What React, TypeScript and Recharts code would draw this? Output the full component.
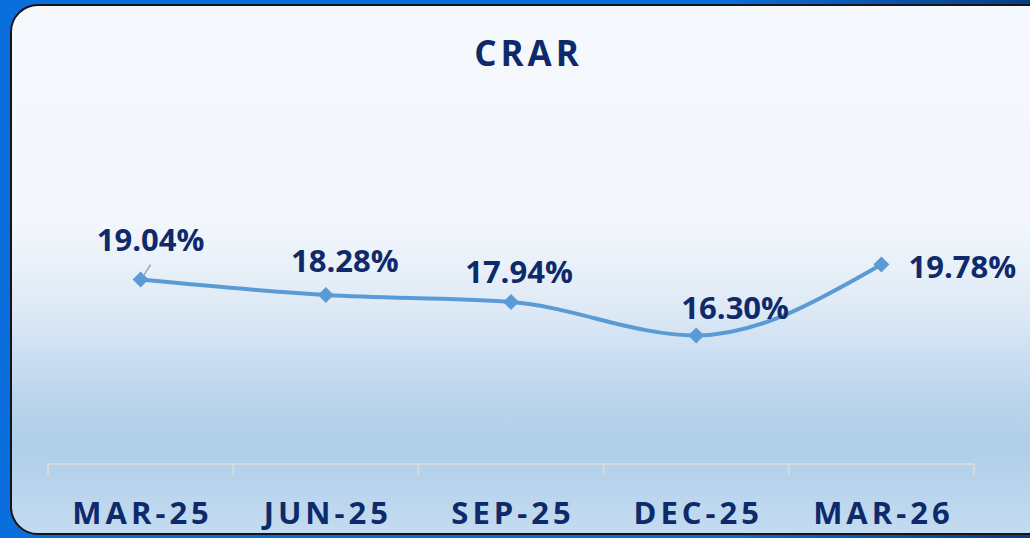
import { LineChart, Line, XAxis, YAxis, LabelList } from 'recharts'

const QUARTERS = ['MAR-25', 'JUN-25', 'SEP-25', 'DEC-25', 'MAR-26']
const CRAR = [19.04, 18.28, 17.94, 16.3, 19.78]
const BOUNDARY_TICKS = [0, 1, 2, 3, 4, 5]
const CENTER_TICKS = [0.5, 1.5, 2.5, 3.5, 4.5]

const NAVY = '#0f2a6b'
const LINE_BLUE = '#5b9bd5'
const AXIS_GREY = '#d6d9dd'
const FONT = '"Open Sans", Lato, sans-serif'
const WEIGHT = 700

// label nudges relative to each point (Excel-style manual placement)
const LABEL_NUDGE: [number, number][] = [
  [10, -41],
  [19, -35],
  [8, -31],
  [39, -28],
  [81, 2],
]

const data = QUARTERS.map((q, i) => ({ x: i + 0.5, quarter: q, crar: CRAR[i] }))

function Diamond(props: any) {
  const { cx, cy } = props
  if (cx == null || cy == null) return null
  const r = 8
  return (
    <polygon
      points={`${cx},${cy - r} ${cx + r},${cy} ${cx},${cy + r} ${cx - r},${cy}`}
      fill={LINE_BLUE}
    />
  )
}

function PointLabel(props: any) {
  const { x, y, value, index } = props
  const [dx, dy] = LABEL_NUDGE[index] || [0, -30]
  return (
    <g>
      {index === 0 && (
        <line x1={x + 3} y1={y - 4} x2={x + 10} y2={y - 15} stroke="#a6a6a6" strokeWidth={1.5} />
      )}
      <text
        x={x + dx}
        y={y + dy}
        textAnchor="middle"
        dominantBaseline="central"
        fill={NAVY}
        fontFamily={FONT}
        fontWeight={WEIGHT}
        fontSize={31}
      >
        {Number(value).toFixed(2)}%
      </text>
    </g>
  )
}

function NoLabel() {
  return <g />
}

function QuarterTick(props: any) {
  const { x, y, payload } = props
  const label = QUARTERS[Math.round(payload.value - 0.5)]
  return (
    <text
      x={x + 2}
      y={y + 59}
      textAnchor="middle"
      fill={NAVY}
      fontFamily={FONT}
      fontWeight={WEIGHT}
      fontSize={31}
      letterSpacing={4}
    >
      {label}
    </text>
  )
}

export default function App() {
  return (
    <div
      style={{
        position: 'fixed',
        left: 0,
        top: 0,
        width: 1030,
        height: 538,
        overflow: 'hidden',
        background: 'linear-gradient(to right, #0a6fdc 0%, #0a6fdc 70%, #0b3c82 100%)',
      }}
    >
      <div
        style={{
          position: 'absolute',
          left: 10,
          top: 4,
          width: 1050,
          height: 531,
          border: '2px solid #151515',
          borderRadius: 28,
          boxSizing: 'border-box',
          background:
            'linear-gradient(to bottom, #f5f9fd 0px, #f3f7fc 215px, #dfeaf6 300px, #bbd5ed 390px, #afcee9 440px, #c4dcf1 531px)',
        }}
      />
      <div
        style={{
          position: 'absolute',
          left: 0,
          top: 31,
          width: 1057,
          textAlign: 'center',
          fontFamily: FONT,
          fontWeight: WEIGHT,
          fontSize: 35,
          lineHeight: '44px',
          letterSpacing: 4,
          color: NAVY,
        }}
      >
        CRAR
      </div>
      <div style={{ position: 'absolute', left: 0, top: 0 }}>
        <LineChart width={1030} height={538} data={data} margin={{ top: 158, right: 56, bottom: 0, left: 48 }}>
          <XAxis
            xAxisId="b"
            type="number"
            dataKey="x"
            domain={[0, 5]}
            ticks={CENTER_TICKS}
            height={73}
            tickSize={0}
            tickMargin={0}
            tickLine={false}
            axisLine={false}
            tick={<QuarterTick />}
            interval={0}
          />
          <XAxis
            xAxisId="a"
            type="number"
            dataKey="x"
            domain={[0, 5]}
            ticks={BOUNDARY_TICKS}
            height={1}
            tick={<NoLabel />}
            interval={0}
            tickSize={11}
            tickLine={{ stroke: AXIS_GREY, strokeWidth: 2 }}
            axisLine={{ stroke: AXIS_GREY, strokeWidth: 2 }}
          />
          <YAxis hide domain={[10, 25]} />
          <Line
            xAxisId="b"
            type="monotone"
            dataKey="crar"
            stroke={LINE_BLUE}
            strokeWidth={4}
            dot={<Diamond />}
            activeDot={false}
            isAnimationActive={false}
          >
            <LabelList dataKey="crar" content={<PointLabel />} />
          </Line>
        </LineChart>
      </div>
    </div>
  )
}
